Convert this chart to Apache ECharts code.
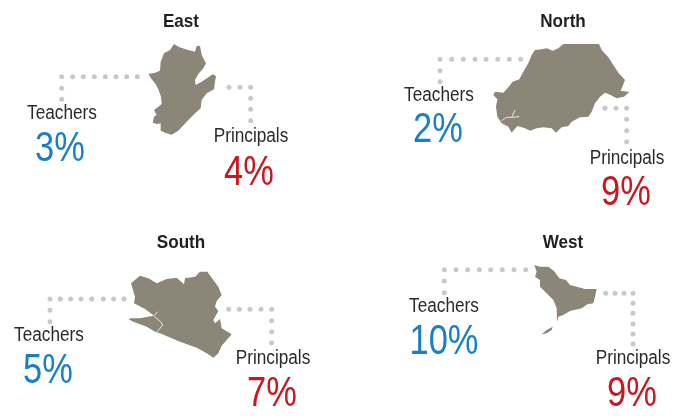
<!DOCTYPE html>
<html>
<head>
<meta charset="utf-8">
<style>
  html, body { margin: 0; padding: 0; background: #fff; }
  #chart { width: 683px; height: 416px; }
</style>
</head>
<body>
<div id="chart"></div>
<script src="https://cdn.jsdelivr.net/npm/echarts@6/dist/echarts.min.js"></script>
<script>
const regions = ["East", "North", "South", "West"];
const teacherShares = [3, 2, 5, 10];
const principalShares = [4, 9, 7, 9];

const cropOrigins = [[20, 0], [400, 0], [0, 225], [400, 225]];

const eastOutline = [[462,132],[478,142],[505,150],[525,155],[530,138],[540,138],[545,165],[558,190],[550,205],[535,222],[525,240],[527,255],[545,245],[565,232],[578,223],[588,228],[585,245],[582,268],[560,280],[545,300],[542,325],[520,345],[500,365],[475,392],[455,404],[435,398],[422,392],[422,370],[412,372],[398,368],[402,350],[410,345],[402,330],[415,320],[425,312],[423,290],[415,268],[405,250],[395,238],[385,222],[405,218],[420,212],[422,185],[432,160],[450,150]];
const northOutline = [[490,132],[597,132],[605,150],[625,172],[640,195],[655,218],[675,240],[668,258],[662,272],[688,276],[672,290],[650,295],[632,285],[615,278],[600,290],[585,310],[575,335],[565,350],[540,352],[515,365],[505,378],[485,382],[468,398],[455,385],[430,382],[410,385],[390,392],[375,385],[352,378],[335,398],[325,380],[305,370],[292,350],[288,320],[292,298],[280,285],[285,275],[310,278],[325,262],[338,245],[358,238],[370,215],[385,190],[395,165],[405,150],[425,148],[440,145],[458,152],[475,145]];
const southOutline = [[393,175],[420,152],[445,160],[470,175],[500,162],[530,158],[552,178],[555,160],[585,155],[600,140],[622,140],[640,165],[655,185],[665,210],[650,228],[645,245],[655,258],[640,285],[645,295],[660,282],[665,310],[695,328],[680,345],[665,362],[655,385],[640,398],[620,385],[590,368],[540,350],[480,325],[465,320],[440,305],[400,290],[385,282],[395,280],[420,280],[445,275],[462,272],[435,252],[402,235],[405,215]];
const westOutline = [[403,120],[420,125],[445,125],[462,138],[478,160],[498,165],[510,180],[530,185],[555,192],[590,192],[585,215],[580,235],[562,238],[545,250],[510,258],[490,270],[475,275],[471,290],[470,250],[460,225],[440,205],[420,185],[420,165],[405,155],[410,140]];
const westIsland = [[425,328],[440,315],[458,305],[455,315],[440,325]];
const outlines = [[eastOutline], [northOutline], [southOutline], [westOutline, westIsland]];

// white river cuts inside the north and south shapes
const northRivers = [[[305,362],[320,352],[335,352],[345,330]], [[335,352],[358,350]]];
const southRivers = [[[462,272],[473,260]], [[462,274],[482,290],[488,300],[472,320]]];
const rivers = [[], northRivers, southRivers, []];

const teacherDots = [
  [[125,230],[158,230],[190,230],[223,230],[256,230],[288,230],[320,230],[352,230],[125,265],[125,298]],
  [[120,178],[155,178],[190,178],[225,178],[258,178],[293,178],[328,178],[362,178],[120,212],[120,245]],
  [[150,222],[181,222],[212,222],[243,222],[275,222],[310,222],[341,222],[372,222],[150,256],[150,290]],
  [[133,134],[168,134],[203,134],[238,134],[272,134],[307,134],[342,134],[377,134],[133,168],[133,203]]
];
const principalDots = [
  [[627,262],[660,262],[692,262],[692,295],[692,328],[692,362]],
  [[615,325],[648,325],[680,325],[680,358],[680,392],[680,425]],
  [[686,253],[718,253],[750,253],[783,253],[815,253],[815,287],[815,320],[815,353]],
  [[617,205],[645,205],[672,205],[699,205],[699,235],[699,265],[699,297],[699,327],[699,357]]
];

const titleAt = [[181, 22], [563, 22], [181, 243], [563, 243]];
const teacherLabelAt = [[62, 113], [439, 95], [49, 335], [444, 306]];
const teacherValueAt = [[60, 149], [438, 130], [48, 371], [444, 342]];
const principalLabelAt = [[251, 136], [627, 158], [273, 358], [633, 358]];
const principalValueAt = [[249, 173], [626, 193], [272, 394], [632, 394]];

const FONT = '"Liberation Sans", Arial, sans-serif';

function toChart(i, p) {
  return [cropOrigins[i][0] + p[0] / 3, cropOrigins[i][1] + p[1] / 3];
}

// the source type is condensed and no narrow face is installed, so squeeze the text
function textSeries(name, at, texts, size, weight, color, squeeze) {
  return {
    name: name,
    type: "custom",
    silent: true,
    data: texts,
    renderItem: function (params, api) {
      const c = api.coord(at[params.dataIndex]);
      return {
        type: "text",
        x: c[0],
        y: c[1],
        scaleX: squeeze,
        style: {
          text: texts[params.dataIndex],
          fontFamily: FONT,
          fontSize: size,
          fontWeight: weight,
          fill: color,
          textAlign: "center",
          textVerticalAlign: "middle"
        }
      };
    }
  };
}

function landItem(params, api) {
  const shapes = outlines[params.dataIndex].map(function (ring) {
    return {
      type: "polygon",
      shape: { points: ring.map(function (p) { return api.coord(toChart(params.dataIndex, p)); }) },
      style: { fill: "#8b8677" }
    };
  });
  rivers[params.dataIndex].forEach(function (line) {
    shapes.push({
      type: "polyline",
      shape: { points: line.map(function (p) { return api.coord(toChart(params.dataIndex, p)); }) },
      style: { fill: "none", stroke: "#fff", lineWidth: 0.8 }
    });
  });
  return { type: "group", children: shapes };
}

let myChart = echarts.init(document.getElementById("chart"), null, { renderer: "canvas" });

let dotData = [];
regions.forEach(function (r, i) {
  teacherDots[i].concat(principalDots[i]).forEach(function (p) { dotData.push(toChart(i, p)); });
});

let option = {
  animation: false,
  backgroundColor: "#fff",
  grid: { left: 0, right: 0, top: 0, bottom: 0 },
  xAxis: { type: "value", min: 0, max: 683, show: false },
  yAxis: { type: "value", min: 0, max: 416, inverse: true, show: false },
  series: [
    {
      name: "Leaders",
      type: "scatter",
      symbol: "circle",
      symbolSize: 5,
      silent: true,
      itemStyle: { color: "#c8c9cb", opacity: 1 },
      data: dotData
    },
    {
      name: "Land",
      type: "custom",
      silent: true,
      renderItem: landItem,
      data: regions
    },
    textSeries("Titles", titleAt, regions, 19, "bold", "#231f20", 0.9),
    textSeries("Teacher labels", teacherLabelAt, regions.map(function () { return "Teachers"; }), 20, "normal", "#2b2a2b", 0.86),
    textSeries("Principal labels", principalLabelAt, regions.map(function () { return "Principals"; }), 20, "normal", "#2b2a2b", 0.86),
    textSeries("Teachers", teacherValueAt, teacherShares.map(function (v) { return v + "%"; }), 42, "normal", "#1a80c4", 0.82),
    textSeries("Principals", principalValueAt, principalShares.map(function (v) { return v + "%"; }), 42, "normal", "#c8171e", 0.82)
  ]
};
myChart.setOption(option);
</script>
</body>
</html>
